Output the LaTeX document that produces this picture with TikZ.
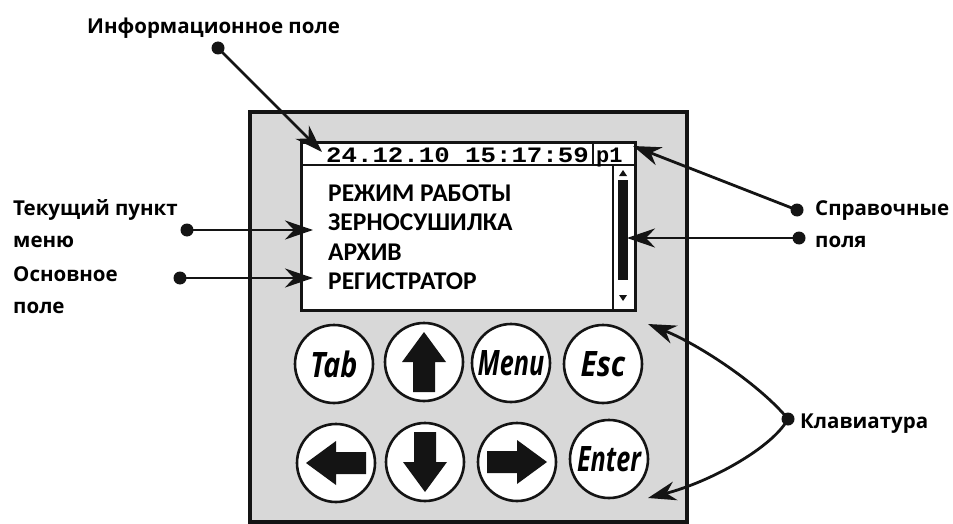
\documentclass[tikz,border=0pt]{standalone}
\usepackage{fontspec}
\setmainfont{Open Sans}
\newfontfamily\menufont{Carlito}
\newfontfamily\lcdfont{Liberation Mono}
\usetikzlibrary{arrows.meta,positioning,calc}
\definecolor{panelgray}{RGB}{216,216,216}
\definecolor{inkblack}{RGB}{20,20,20}
\tikzset{
  panelbox/.style={rectangle, draw=inkblack, line width=4pt, fill=panelgray,
    minimum width=437pt, minimum height=410pt, inner sep=0pt},
  screenbox/.style={rectangle, draw=inkblack, line width=3pt, fill=white,
    minimum width=334pt, minimum height=167pt, inner sep=0pt},
  keybtn/.style={circle, draw=inkblack, line width=2.6pt, fill=white,
    minimum size=78pt, inner sep=0pt,
    font=\bfseries\itshape\fontsize{35}{38}\selectfont},
  keyarrowfill/.style={fill=inkblack},
  menuline/.style={anchor=base west, inner sep=0pt,
    font=\menufont\bfseries\fontsize{25.5}{28}\selectfont},
  lcdtext/.style={anchor=base west, inner sep=0pt,
    font=\lcdfont\bfseries\fontsize{22}{24}\selectfont},
  calltext/.style={anchor=base west, inner sep=0pt, align=left,
    font=\bfseries\fontsize{20.5}{32}\selectfont},
  calldot/.style={circle, fill=inkblack, inner sep=0pt, minimum size=13pt},
  callout/.style={draw=inkblack, line width=2.8pt,
    -{Stealth[length=28pt,width=19pt,inset=9pt]}},
  thinrule/.style={draw=inkblack, line width=2pt}
}
\newcommand{\keyarrow}[2]{%
  \fill[keyarrowfill, shift={(#1.center)}, rotate=#2]
    (-30,-11) -- (0,-11) -- (0,-22) -- (30,0) -- (0,22) -- (0,11) -- (-30,11) -- cycle;}

\begin{document}
\begin{tikzpicture}[x=1pt, y=-1pt]
  \useasboundingbox (0,0) rectangle (953,524);

  % --- device body ---
  \node[panelbox] (panel) at (468.5,317) {};
  \node[screenbox] (screen) at (468,226.5) {};

  % --- header line of the display ---
  \coordinate (hdrL) at (301,165);
  \coordinate (hdrR) at (635,165);
  \coordinate (sepT) at (593,143);
  \draw[thinrule] (hdrL) -- (hdrR);
  \draw[thinrule] (sepT) -- (sepT |- hdrL);
  \node[lcdtext] (clock) at (326,162) {\scalebox{1.17}[1]{24.12.10 15:17:59}};
  \node[lcdtext] (page) at (596,162) {p1};

  % --- scroll bar ---
  \draw[inkblack, line width=1.2pt] (613,165) -- (613,310);
  \fill[inkblack] (618,180) rectangle (628,280);
  \fill[inkblack] (619,176) -- (627,176) -- (623,170) -- cycle;
  \fill[inkblack] (619,295) -- (627,295) -- (623,301) -- cycle;

  % --- menu ---
  \foreach \txt [count=\i] in {РЕЖИМ РАБОТЫ, ЗЕРНОСУШИЛКА, АРХИВ, РЕГИСТРАТОР}
    \node[menuline] (item\i) at (328,171.5+29.5*\i) {\txt};

  % --- keys ---
  \node[keybtn] (kTab)   at (334,364) {\scalebox{0.82}[1]{Tab}};
  \node[keybtn] (kUp)    at (424,362) {};
  \node[keybtn] (kMenu)  at (511,363) {\scalebox{0.72}[1]{Menu}};
  \node[keybtn] (kEsc)   at (603,364) {\scalebox{0.85}[1]{Esc}};
  \node[keybtn] (kLeft)  at (336,463) {};
  \node[keybtn] (kDown)  at (425,462) {};
  \node[keybtn] (kRight) at (517,462) {};
  \node[keybtn] (kEnter) at (609,459) {\scalebox{0.72}[1]{Enter}};
  \keyarrow{kUp}{90}
  \keyarrow{kDown}{-90}
  \keyarrow{kLeft}{180}
  \keyarrow{kRight}{0}

  % --- callouts ---
  \node[calltext] (lblInfo) at (87,34) {Информационное поле};
  \node[calltext] (lblCur)  at (13,247) {Текущий пункт\\меню};
  \node[calltext] (lblMain) at (13,313) {Основное\\поле};
  \node[calltext] (lblRef)  at (815,247) {Справочные\\поля};
  \node[calltext] (lblKbd)  at (800,428) {Клавиатура};

  \node[calldot] (dInfo) at (218,48) {};
  \node[calldot] (dCur)  at (187,230) {};
  \node[calldot] (dMain) at (180,278) {};
  \node[calldot] (dRef1) at (797,210) {};
  \node[calldot] (dRef2) at (799,238) {};
  \node[calldot] (dKbd)  at (788,419) {};

  \coordinate (tInfo) at (322,152);
  \coordinate (tCur)  at (313,230);
  \coordinate (tMain) at (313,278);
  \coordinate (tRef1) at (633,146);
  \coordinate (tRef2) at (627,238);
  \coordinate (tKbd1) at (648,324);
  \coordinate (tKbd2) at (648,498);

  % ---------------- edges ----------------
  \draw[callout] (dInfo.center) -- (tInfo);
  \draw[callout] (dCur.center) -- (tCur);
  \draw[callout] (dMain.center) -- (tMain);
  \draw[callout] (dRef1.center) -- (tRef1);
  \draw[callout] (dRef2.center) -- (tRef2);
  \draw[callout] (dKbd.center) .. controls (760,385) and (700,345) .. (tKbd1);
  \draw[callout] (dKbd.center) .. controls (772,448) and (710,482) .. (tKbd2);

\end{tikzpicture}
\end{document}
